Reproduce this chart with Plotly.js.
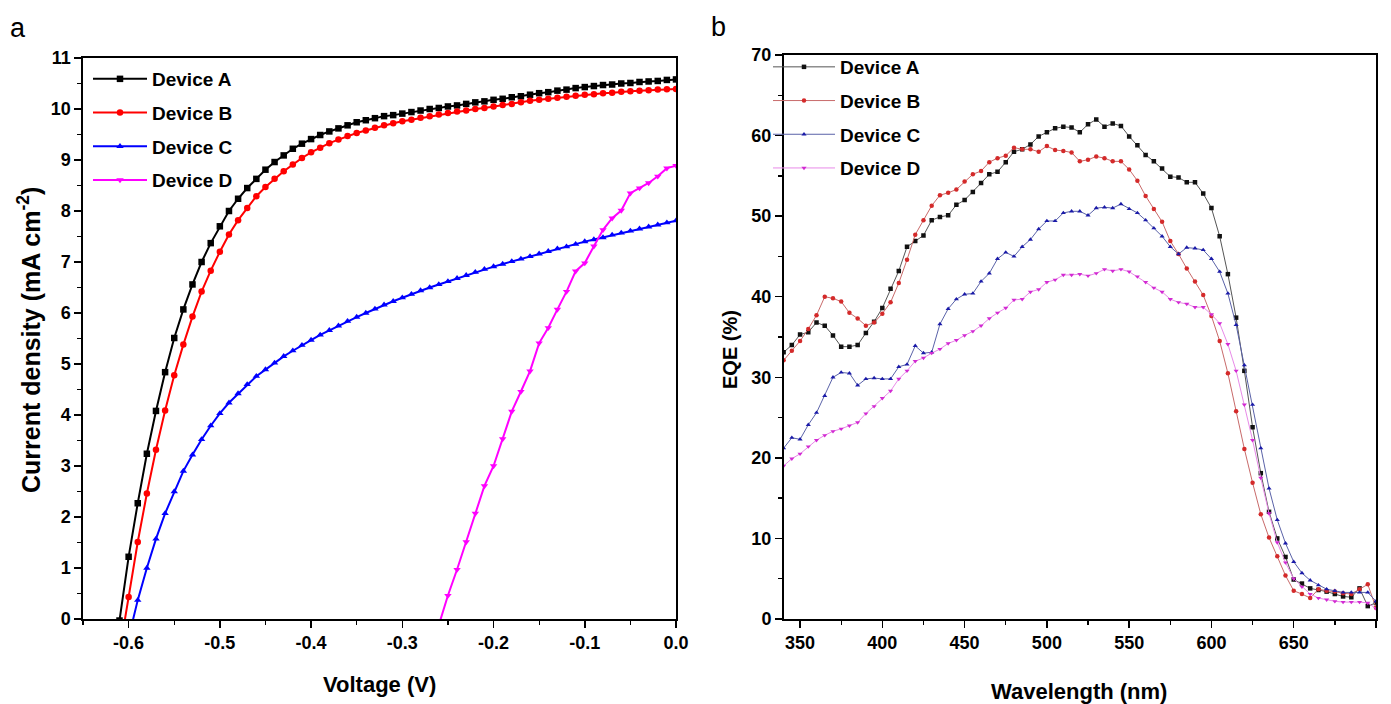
<!DOCTYPE html>
<html>
<head>
<meta charset="utf-8">
<script src="https://cdn.plot.ly/plotly-3.0.1.min.js"></script>
<style>html,body{margin:0;padding:0;background:#fff;}#chart{width:1391px;height:704px;}</style>
</head>
<body>
<div id="chart"></div>
<script>
// ---------- Panel a: J-V ----------
const voltageAB = [-0.61,-0.60,-0.59,-0.58,-0.57,-0.56,-0.55,-0.54,-0.53,-0.52,-0.51,-0.50,-0.49,-0.48,-0.47,-0.46,-0.45,-0.44,-0.43,-0.42,-0.41,-0.40,-0.39,-0.38,-0.37,-0.36,-0.35,-0.34,-0.33,-0.32,-0.31,-0.30,-0.29,-0.28,-0.27,-0.26,-0.25,-0.24,-0.23,-0.22,-0.21,-0.20,-0.19,-0.18,-0.17,-0.16,-0.15,-0.14,-0.13,-0.12,-0.11,-0.10,-0.09,-0.08,-0.07,-0.06,-0.05,-0.04,-0.03,-0.02,-0.01,0.00];
const jDeviceA = [-0.03,1.22,2.27,3.24,4.08,4.84,5.51,6.07,6.56,7.00,7.37,7.70,8.00,8.24,8.45,8.63,8.81,8.96,9.09,9.22,9.32,9.41,9.49,9.56,9.62,9.68,9.74,9.78,9.82,9.86,9.88,9.91,9.94,9.97,10.00,10.02,10.05,10.07,10.10,10.13,10.15,10.18,10.20,10.23,10.25,10.28,10.31,10.33,10.36,10.38,10.41,10.43,10.45,10.47,10.48,10.50,10.51,10.53,10.54,10.55,10.57,10.58];
const jDeviceB = [-0.65,0.43,1.51,2.46,3.32,4.09,4.78,5.38,5.93,6.42,6.83,7.20,7.54,7.82,8.06,8.29,8.47,8.63,8.78,8.91,9.04,9.15,9.24,9.33,9.40,9.47,9.53,9.58,9.63,9.68,9.72,9.76,9.79,9.83,9.86,9.89,9.92,9.95,9.97,10.00,10.02,10.05,10.08,10.10,10.13,10.16,10.18,10.20,10.22,10.24,10.26,10.28,10.29,10.31,10.32,10.34,10.35,10.36,10.37,10.38,10.385,10.39];
const voltageC = [-0.60,-0.59,-0.58,-0.57,-0.56,-0.55,-0.54,-0.53,-0.52,-0.51,-0.50,-0.49,-0.48,-0.47,-0.46,-0.45,-0.44,-0.43,-0.42,-0.41,-0.40,-0.39,-0.38,-0.37,-0.36,-0.35,-0.34,-0.33,-0.32,-0.31,-0.30,-0.29,-0.28,-0.27,-0.26,-0.25,-0.24,-0.23,-0.22,-0.21,-0.20,-0.19,-0.18,-0.17,-0.16,-0.15,-0.14,-0.13,-0.12,-0.11,-0.10,-0.09,-0.08,-0.07,-0.06,-0.05,-0.04,-0.03,-0.02,-0.01,0.00];
const jDeviceC = [-0.37,0.37,1.00,1.57,2.07,2.50,2.90,3.22,3.52,3.79,4.03,4.24,4.42,4.60,4.76,4.89,5.02,5.15,5.26,5.37,5.47,5.57,5.66,5.75,5.84,5.92,6.00,6.08,6.16,6.23,6.30,6.37,6.44,6.50,6.56,6.62,6.68,6.74,6.80,6.86,6.91,6.96,7.01,7.06,7.11,7.16,7.21,7.26,7.30,7.35,7.40,7.44,7.48,7.53,7.57,7.61,7.65,7.69,7.73,7.77,7.81];
const voltageD = [-0.26,-0.25,-0.24,-0.23,-0.22,-0.21,-0.20,-0.19,-0.18,-0.17,-0.16,-0.15,-0.14,-0.13,-0.12,-0.11,-0.10,-0.09,-0.08,-0.07,-0.06,-0.05,-0.04,-0.03,-0.02,-0.01,0.00];
const jDeviceD = [-0.12,0.46,0.97,1.51,2.07,2.61,3.00,3.53,4.07,4.46,4.86,5.41,5.71,6.07,6.42,6.82,6.98,7.31,7.63,7.86,8.01,8.35,8.45,8.55,8.68,8.84,8.89];

const voltTickVals = [-0.6,-0.5,-0.4,-0.3,-0.2,-0.1,0.0];
const voltTickText = ["-0.6","-0.5","-0.4","-0.3","-0.2","-0.1","0.0"];
const jTickVals = [0,1,2,3,4,5,6,7,8,9,10,11];

// ---------- Panel b: EQE ----------
const wavelength = [340,345,350,355,360,365,370,375,380,385,390,395,400,405,410,415,420,425,430,435,440,445,450,455,460,465,470,475,480,485,490,495,500,505,510,515,520,525,530,535,540,545,550,555,560,565,570,575,580,585,590,595,600,605,610,615,620,625,630,635,640,645,650,655,660,665,670,675,680,685,690,695,700];
const eqeA = [33.1,34.0,35.3,35.6,36.8,36.4,35.2,33.8,33.8,34.0,35.5,36.9,38.6,41.0,43.2,46.2,46.9,47.6,49.5,49.9,50.1,51.4,52.0,53.0,54.1,55.2,55.5,56.7,58.0,58.3,58.9,59.9,60.4,60.9,61.1,61.0,60.4,61.4,62.0,61.1,61.5,61.2,59.9,58.8,57.6,56.8,55.9,54.9,54.8,54.2,54.2,52.8,51.0,47.5,42.8,37.4,30.8,23.8,18.1,13.3,10.0,7.7,4.9,4.4,3.8,3.6,3.4,3.1,2.8,2.7,3.8,1.6,2.0];
const eqeB = [32.1,33.3,34.5,36.0,37.7,40.0,39.8,39.4,38.0,37.3,36.4,36.8,37.9,39.3,41.7,44.6,47.7,49.5,51.3,52.6,52.9,53.3,54.3,55.2,55.6,56.7,57.2,57.5,58.5,58.3,58.3,58.0,58.7,58.2,58.1,57.9,56.8,57.0,57.4,57.2,56.8,56.8,55.8,54.4,52.5,50.9,49.3,46.9,45.3,43.5,41.9,40.2,37.6,34.5,30.5,25.8,21.1,16.9,13.0,10.1,7.8,5.4,3.5,3.1,2.6,3.7,3.5,3.4,3.2,3.1,3.7,4.3,1.4];
const eqeC = [21.2,22.5,22.3,24.1,25.6,27.7,30.0,30.6,30.5,29.0,29.8,29.9,29.8,29.8,31.3,31.6,33.9,33.0,33.1,36.6,38.5,39.7,40.3,40.4,41.9,42.9,44.7,45.5,45.0,46.2,47.1,48.4,49.4,49.4,50.4,50.6,50.6,50.1,51.0,51.1,51.0,51.5,50.9,50.4,49.5,48.5,47.5,46.2,45.3,46.1,46.0,45.8,44.7,43.1,40.4,36.5,31.5,26.6,21.2,16.2,12.3,9.4,7.1,5.7,4.8,4.2,3.7,3.5,3.3,3.3,3.3,3.3,2.2];
const eqeD = [19.0,19.9,20.5,21.4,22.2,22.8,23.3,23.6,24.0,24.4,25.5,26.4,27.4,28.3,29.8,30.8,32.0,32.4,33.0,33.5,34.2,34.6,35.2,35.7,36.4,37.3,38.0,38.6,39.6,39.7,40.6,40.9,41.8,42.1,42.7,42.7,42.8,42.6,42.9,43.4,43.2,43.4,43.1,42.5,41.8,41.1,40.6,39.7,39.3,39.1,38.7,38.7,37.8,36.7,34.1,30.8,26.6,22.2,17.5,13.1,9.5,7.0,5.0,4.0,3.1,2.6,2.4,2.2,2.1,2.1,2.1,2.0,1.3];

const wlTickVals = [350,400,450,500,550,600,650,700];
const eqeTickVals = [0,10,20,30,40,50,60,70];

const deviceNames = ["Device A","Device B","Device C","Device D"];

// ---------- styling ----------
const W = 1391, H = 704;
const px = v => v / W, py = v => 1 - v / H;
const SANS = "'Liberation Sans', Arial, sans-serif";
const tickFont = {family: SANS, size: 18, color: "#000", weight: "bold"};
const legendFont = {family: SANS, size: 19, color: "#000", weight: "bold"};

const leftColors = ["#000000", "#ff0000", "#0000ff", "#ff00ff"];
const leftSymbols = ["square", "circle", "triangle-up", "triangle-down"];
const rightLine = ["#555555", "#c86a6a", "#5a62a8", "#e88ae8"];
const rightMarker = ["#111111", "#d42a2a", "#1a1aa8", "#d22ad2"];

const jvX = [voltageAB, voltageAB, voltageC, voltageD];
const jvY = [jDeviceA, jDeviceB, jDeviceC, jDeviceD];
const eqeY = [eqeA, eqeB, eqeC, eqeD];

const traces = [];
for (let i = 0; i < 4; i++) {
  traces.push({
    x: jvX[i], y: jvY[i], type: "scatter", mode: "lines+markers", name: deviceNames[i],
    xaxis: "x", yaxis: "y", legend: "legend", legendgroup: "a" + i,
    line: {color: leftColors[i], width: 2},
    marker: {color: leftColors[i], symbol: leftSymbols[i], size: 6.5}
  });
}
for (let i = 0; i < 4; i++) {
  traces.push({
    x: wavelength, y: eqeY[i], type: "scatter", mode: "lines+markers", name: deviceNames[i],
    xaxis: "x2", yaxis: "y2", legend: "legend2", legendgroup: "b" + i,
    line: {color: rightLine[i], width: 1},
    marker: {color: rightMarker[i], symbol: leftSymbols[i], size: 4.5}
  });
}

const axisCommon = {
  showgrid: false, zeroline: false, showline: true, linecolor: "#000", linewidth: 1.6,
  mirror: true, ticks: "outside", ticklen: 7, tickwidth: 1.5, tickcolor: "#000",
  tickfont: tickFont, automargin: false
};
const minorCommon = {ticks: "outside", ticklen: 4, tickwidth: 1.3, tickcolor: "#000", showgrid: false};

const layout = {
  width: W, height: H,
  paper_bgcolor: "#fff", plot_bgcolor: "#fff",
  margin: {l: 0, r: 0, t: 0, b: 0},
  showlegend: true,
  xaxis: Object.assign({}, axisCommon, {
    domain: [px(83), px(676)], range: [-0.65, 0], anchor: "y",
    tickmode: "array", tickvals: voltTickVals, ticktext: voltTickText,
    minor: Object.assign({dtick: 0.05, tick0: 0}, minorCommon)
  }),
  yaxis: Object.assign({}, axisCommon, {
    domain: [py(619), py(58)], range: [0, 11], anchor: "x",
    tickmode: "array", tickvals: jTickVals,
    minor: Object.assign({dtick: 0.5, tick0: 0}, minorCommon)
  }),
  xaxis2: Object.assign({}, axisCommon, {
    domain: [px(783.6), px(1376)], range: [340, 700], anchor: "y2",
    tickmode: "array", tickvals: wlTickVals,
    minor: Object.assign({dtick: 25, tick0: 0}, minorCommon)
  }),
  yaxis2: Object.assign({}, axisCommon, {
    domain: [py(619), py(55)], range: [0, 70], anchor: "x2",
    tickmode: "array", tickvals: eqeTickVals,
    minor: Object.assign({dtick: 5, tick0: 0}, minorCommon)
  }),
  legend: {
    x: px(88), y: py(60), xanchor: "left", yanchor: "top",
    bgcolor: "rgba(0,0,0,0)", borderwidth: 0, font: legendFont,
    tracegroupgap: 6, itemwidth: 54, traceorder: "grouped"
  },
  legend2: {
    x: px(768), y: py(48), xanchor: "left", yanchor: "top",
    bgcolor: "rgba(0,0,0,0)", borderwidth: 0, font: legendFont,
    tracegroupgap: 6, itemwidth: 62, traceorder: "grouped"
  },
  annotations: [
    {text: "a", x: px(18), y: py(28), xanchor: "center", yanchor: "middle", xref: "paper", yref: "paper", showarrow: false,
     font: {family: SANS, size: 27, color: "#000"}},
    {text: "b", x: px(718), y: py(27), xanchor: "center", yanchor: "middle", xref: "paper", yref: "paper", showarrow: false,
     font: {family: SANS, size: 27, color: "#000"}},
    {text: "Current density (mA cm<sup>-2</sup>)", x: px(29), y: py(340), xanchor: "center", yanchor: "middle",
     xref: "paper", yref: "paper", showarrow: false, textangle: -90,
     font: {family: SANS, size: 25, color: "#000", weight: "bold"}},
    {text: "Voltage (V)", x: px(379), y: py(684), xanchor: "center", yanchor: "middle", xref: "paper", yref: "paper", showarrow: false,
     font: {family: SANS, size: 22, color: "#000", weight: "bold"}},
    {text: "EQE (%)", x: px(730), y: py(350), xanchor: "center", yanchor: "middle", xref: "paper", yref: "paper", showarrow: false, textangle: -90,
     font: {family: SANS, size: 20, color: "#000", weight: "bold"}},
    {text: "Wavelength (nm)", x: px(1079), y: py(691), xanchor: "center", yanchor: "middle", xref: "paper", yref: "paper", showarrow: false,
     font: {family: SANS, size: 22, color: "#000", weight: "bold"}}
  ]
};

Plotly.newPlot("chart", traces, layout, {displayModeBar: false, staticPlot: true});
</script>
</body>
</html>
